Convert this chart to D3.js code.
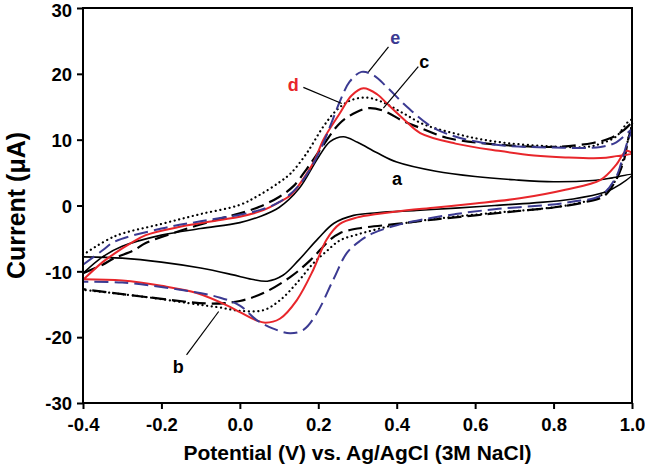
<!DOCTYPE html>
<html>
<head>
<meta charset="utf-8">
<script src="https://cdn.jsdelivr.net/npm/d3@7"></script>
<style>
  body { margin: 0; background: #fff; }
  text { font-family: "Liberation Sans", Arial, sans-serif; font-weight: bold; }
</style>
</head>
<body>
<svg id="chart" width="645" height="470"></svg>
<script>
// ---- Data (potential V, current µA); each curve: forward scan then reverse scan ----
const xTicks = [-0.4, -0.2, 0.0, 0.2, 0.4, 0.6, 0.8, 1.0];
const yTicks = [-30, -20, -10, 0, 10, 20, 30];

const curveA = [
  [-0.4,-10.3],[-0.35,-7.8],[-0.3,-6.2],[-0.2,-4.5],[-0.1,-3.5],[0.0,-2.6],[0.05,-1.7],[0.1,-0.3],
  [0.15,2.5],[0.2,7.3],[0.23,9.7],[0.264,10.45],[0.3,9.6],[0.35,8.0],[0.4,6.6],[0.5,5.2],
  [0.6,4.4],[0.7,3.9],[0.8,3.6],[0.9,3.8],[0.95,4.2],[1.0,4.7],
  [0.97,3.2],[0.93,2.0],[0.85,1.0],[0.75,0.4],[0.65,0.0],[0.55,-0.4],[0.45,-0.75],[0.35,-1.1],
  [0.29,-1.5],[0.24,-2.7],[0.2,-5.0],[0.15,-8.3],[0.11,-10.6],[0.07,-11.5],[0.03,-11.2],
  [-0.02,-10.5],[-0.1,-9.5],[-0.2,-8.6],[-0.3,-8.0],[-0.4,-7.8]
];
const curveB = [
  [-0.4,-7.5],[-0.32,-4.7],[-0.2,-2.8],[-0.1,-1.3],[0.0,0.1],[0.05,1.6],[0.1,3.5],[0.13,4.9],
  [0.17,7.9],[0.213,12],[0.247,14.5],[0.28,15.9],[0.32,16.4],[0.36,15.8],[0.417,14],[0.47,12.3],
  [0.544,11],[0.62,10],[0.714,9.3],[0.885,8.9],[0.92,9.4],[0.96,10.5],[0.99,12.7],[1.0,13],
  [0.99,10],[0.975,6.5],[0.96,4.0],[0.92,1.5],[0.85,0.2],[0.75,-0.6],[0.65,-1.1],[0.55,-1.7],
  [0.45,-2.4],[0.4,-2.9],[0.35,-3.6],[0.3,-4.4],[0.255,-5.3],[0.22,-7.0],[0.187,-8.8],[0.145,-11.8],
  [0.102,-14.4],[0.06,-15.9],[0.0,-16.0],[-0.05,-15.5],[-0.1,-15.1],[-0.24,-13.9],[-0.4,-12.8]
];
const curveC = [
  [-0.4,-10.3],[-0.35,-9.0],[-0.32,-8.0],[-0.27,-6.8],[-0.24,-5.7],[-0.15,-3.8],[-0.05,-2.0],
  [0.0,-1.2],[0.05,-0.2],[0.1,1.3],[0.136,2.9],[0.17,5.5],[0.204,8.4],[0.255,12.5],[0.298,14.2],
  [0.33,14.8],[0.37,14.3],[0.417,12.8],[0.459,11.8],[0.527,10.3],[0.63,9.4],[0.8,8.9],[0.9,9.5],
  [0.944,10.2],[0.98,11.5],[1.0,12.5],
  [0.99,10],[0.98,7],[0.96,4],[0.93,1.5],[0.88,0.5],[0.8,-0.3],[0.7,-0.9],[0.6,-1.5],[0.5,-2.1],
  [0.4,-2.8],[0.3,-3.5],[0.255,-4.2],[0.23,-5.2],[0.18,-8.3],[0.13,-10.8],[0.06,-13.3],
  [0.0,-14.5],[-0.07,-14.9],[-0.24,-13.9],[-0.4,-12.7]
];
const curveD = [
  [-0.4,-11.3],[-0.35,-8.6],[-0.32,-7.3],[-0.28,-5.8],[-0.24,-4.5],[-0.15,-3.2],[-0.05,-2.2],
  [0.0,-1.7],[0.06,-0.7],[0.1,0.5],[0.13,1.6],[0.16,3.9],[0.19,6.8],[0.213,10],[0.255,14],
  [0.285,16.7],[0.315,17.8],[0.35,16.9],[0.375,15.5],[0.42,13.0],[0.46,11],[0.55,9.4],[0.66,8.3],
  [0.75,7.6],[0.83,7.3],[0.92,7.2],[0.96,7.5],[1.0,7.9],
  [0.985,8.3],[0.96,6.2],[0.92,3.9],[0.83,2.4],[0.714,1.1],[0.6,0.3],[0.5,-0.3],[0.4,-0.9],
  [0.35,-1.3],[0.3,-1.8],[0.255,-2.8],[0.221,-5.2],[0.187,-9.8],[0.145,-14.4],[0.102,-17.2],
  [0.065,-17.8],[0.04,-17.4],[0.0,-16.2],[-0.025,-15.4],[-0.11,-13.3],[-0.2,-12.2],
  [-0.3,-11.4],[-0.4,-11.2]
];
const curveE = [
  [-0.4,-9.0],[-0.35,-6.8],[-0.32,-5.5],[-0.2,-3.5],[-0.1,-2.4],[0.0,-1.4],[0.05,-0.7],[0.1,0.5],
  [0.15,3],[0.2,7.8],[0.23,12],[0.255,15.8],[0.28,18.8],[0.31,20.3],[0.34,19.8],[0.375,18],
  [0.426,15],[0.5,11.6],[0.63,9.4],[0.8,8.8],[0.92,8.9],[0.96,9.6],[1.0,11.5],
  [0.99,10],[0.975,7],[0.96,4.4],[0.92,1.5],[0.85,0.6],[0.79,0.1],[0.66,-0.5],[0.55,-1.3],
  [0.46,-2.2],[0.4,-3.0],[0.34,-4.2],[0.306,-5.4],[0.273,-7.2],[0.238,-11.3],[0.196,-16.4],
  [0.162,-18.9],[0.128,-19.4],[0.085,-18.7],[0.043,-17.4],[0.0,-15.2],[-0.05,-14.0],
  [-0.153,-12.8],[-0.3,-11.7],[-0.4,-11.6]
];

const seriesNames = ["a", "b", "c", "d", "e"];
const seriesData = [curveA, curveB, curveC, curveD, curveE];

// annotation labels: [label position V, I], leader line from -> to (data units)
const labelPos = [[0.401, 4.0], [-0.157, -24.5], [0.47, 21.8], [0.136, 18.3], [0.396, 25.4]];
const leaderFrom = [null, [-0.136, -22.7], [0.455, 21.1], [0.162, 17.95], [0.379, 24.1]];
const leaderTo = [null, [-0.054, -16.1], [0.366, 14.8], [0.26, 15.5], [0.328, 20.3]];

// ---- Styles ----
const styles = [
  { color: "#000000", width: 1.6, dash: null, cap: "butt" },
  { color: "#000000", width: 2.2, dash: "0.1,4.6", cap: "round" },
  { color: "#000000", width: 2.2, dash: "14,6", cap: "butt" },
  { color: "#e8262b", width: 2.0, dash: null, cap: "butt" },
  { color: "#3b3a92", width: 2.0, dash: "14,6", cap: "butt" }
];
const labelColors = ["#000", "#000", "#000", "#e8262b", "#3b3a92"];

const svg = d3.select("#chart");
const mLeft = 83, mRight = 632, mTop = 8, mBottom = 403;

const x = d3.scaleLinear().domain([-0.4, 1.0]).range([mLeft, mRight]);
const y = d3.scaleLinear().domain([-30, 30]).range([mBottom, mTop]);

const line = d3.line().x(d => x(d[0])).y(d => y(d[1])).curve(d3.curveCatmullRom.alpha(0.5));

const plot = svg.append("g");
seriesData.forEach((data, i) => {
  const s = styles[i];
  plot.append("path")
    .attr("d", line(data))
    .attr("fill", "none")
    .attr("stroke", s.color)
    .attr("stroke-width", s.width)
    .attr("stroke-linecap", s.cap)
    .attr("stroke-linejoin", "round")
    .attr("stroke-dasharray", s.dash);
});

// leader lines and labels
seriesNames.forEach((n, i) => {
  if (leaderFrom[i]) {
    svg.append("line")
      .attr("x1", x(leaderFrom[i][0])).attr("y1", y(leaderFrom[i][1]))
      .attr("x2", x(leaderTo[i][0])).attr("y2", y(leaderTo[i][1]))
      .attr("stroke", "#000").attr("stroke-width", 1.2);
  }
  svg.append("text")
    .attr("x", x(labelPos[i][0])).attr("y", y(labelPos[i][1]))
    .attr("text-anchor", "middle")
    .attr("dominant-baseline", "central")
    .attr("font-size", 18)
    .attr("fill", labelColors[i])
    .text(n);
});

// axes (hyphen-minus as in the reference)
const hy = f => v => f(v).replace("\u2212", "-");
const xAxis = svg.append("g").attr("transform", `translate(0,${mBottom})`)
  .call(d3.axisBottom(x).tickValues(xTicks).tickFormat(hy(d3.format(".1f"))).tickSize(6).tickSizeOuter(0).tickPadding(9));
const yAxis = svg.append("g").attr("transform", `translate(${mLeft},0)`)
  .call(d3.axisLeft(y).tickValues(yTicks).tickFormat(hy(d3.format("d"))).tickSize(6).tickSizeOuter(0).tickPadding(5));

[xAxis, yAxis].forEach(g => {
  g.selectAll("path.domain").remove();
  g.selectAll(".tick line").attr("stroke", "#000").attr("stroke-width", 2);
  g.selectAll(".tick text")
    .attr("font-size", 18.5)
    .attr("font-family", "'Liberation Sans', Arial, sans-serif")
    .attr("font-weight", "bold")
    .attr("fill", "#000");
});
yAxis.selectAll(".tick text").attr("dy", d => d === yTicks[yTicks.length - 1] ? "0.48em" : "0.36em");

// frame
svg.append("rect")
  .attr("x", mLeft).attr("y", mTop)
  .attr("width", mRight - mLeft).attr("height", mBottom - mTop)
  .attr("fill", "none").attr("stroke", "#000").attr("stroke-width", 2);

// axis titles
svg.append("text")
  .attr("x", (mLeft + mRight) / 2).attr("y", 460)
  .attr("text-anchor", "middle")
  .attr("font-size", 21)
  .text("Potential (V) vs. Ag/AgCl (3M NaCl)");

svg.append("text")
  .attr("transform", `translate(25,${(mTop + mBottom) / 2}) rotate(-90)`)
  .attr("text-anchor", "middle")
  .attr("font-size", 25)
  .text("Current (μA)");
</script>
</body>
</html>
